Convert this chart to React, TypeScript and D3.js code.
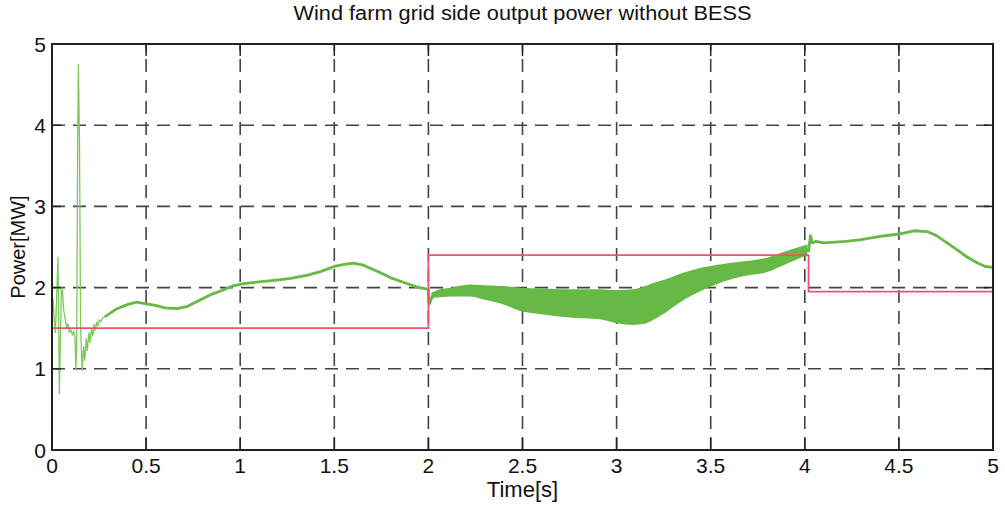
import React from 'react'
import * as d3 from 'd3'

// reference (red) step: power held from each time until the next
const refTime = [0, 2, 4.02, 5]
const refPower = [1.5, 2.4, 1.95, 1.95]

// start-up transient, thin trace
const transientTime = [0, 0.006, 0.012, 0.018, 0.025, 0.032, 0.036, 0.039, 0.045, 0.05, 0.056, 0.062, 0.07, 0.078, 0.085, 0.092, 0.1, 0.108, 0.115, 0.122, 0.127, 0.131, 0.136, 0.14, 0.146, 0.152, 0.16, 0.168, 0.174, 0.182, 0.188, 0.196, 0.202, 0.21, 0.216, 0.224, 0.23, 0.238, 0.244, 0.252, 0.26, 0.27, 0.28]
const transientPower = [1.9, 1.85, 1.6, 1.44, 1.9, 2.38, 1.5, 0.69, 1.4, 2.0, 1.95, 1.72, 1.62, 1.5, 1.56, 1.45, 1.48, 1.42, 1.46, 1.4, 0.98, 1.3, 3.6, 4.75, 3.8, 1.5, 0.98, 1.28, 1.1, 1.38, 1.22, 1.45, 1.32, 1.5, 1.4, 1.55, 1.47, 1.58, 1.53, 1.6, 1.58, 1.63, 1.64]

// smooth part before the first step
const smoothTime1 = [0.28, 0.3, 0.345, 0.4, 0.45, 0.5, 0.55, 0.6, 0.664, 0.72, 0.79, 0.85, 0.91, 0.96, 1.02, 1.1, 1.18, 1.26, 1.354, 1.43, 1.5, 1.56, 1.6, 1.65, 1.7, 1.74, 1.8, 1.885, 1.95, 1.995, 2.0, 2.006, 2.015, 2.025]
const smoothPower1 = [1.64, 1.67, 1.74, 1.79, 1.82, 1.8, 1.78, 1.75, 1.74, 1.77, 1.85, 1.92, 1.97, 2.02, 2.05, 2.07, 2.09, 2.11, 2.15, 2.2, 2.26, 2.29, 2.3, 2.28, 2.23, 2.19, 2.12, 2.05, 2.0, 1.98, 1.98, 1.8, 1.86, 1.9]

// noisy band between the two steps (lower / upper envelope)
const bandTime = [2.02, 2.06, 2.12, 2.22, 2.3, 2.4, 2.49, 2.6, 2.75, 2.91, 3.0, 3.09, 3.14, 3.2, 3.27, 3.35, 3.44, 3.53, 3.62, 3.7, 3.8, 3.9, 4.01]
const bandLow = [1.88, 1.89, 1.9, 1.9, 1.86, 1.8, 1.72, 1.68, 1.64, 1.62, 1.57, 1.55, 1.56, 1.62, 1.72, 1.85, 1.96, 2.05, 2.12, 2.16, 2.2, 2.3, 2.41]
const bandHigh = [1.93, 1.97, 1.99, 2.03, 2.02, 2.01, 1.99, 1.98, 1.97, 1.97, 1.96, 1.97, 2.0, 2.05, 2.1, 2.17, 2.23, 2.27, 2.3, 2.32, 2.36, 2.44, 2.52]

// after the second step
const smoothTime2 = [4.01, 4.02, 4.03, 4.04, 4.06, 4.1, 4.22, 4.3, 4.4, 4.5, 4.58, 4.65, 4.7, 4.75, 4.8, 4.86, 4.92, 4.96, 5.0]
const smoothPower2 = [2.47, 2.45, 2.64, 2.55, 2.57, 2.55, 2.57, 2.59, 2.63, 2.66, 2.7, 2.69, 2.64, 2.56, 2.48, 2.38, 2.3, 2.26, 2.25]

const xTicks = [0, 0.5, 1, 1.5, 2, 2.5, 3, 3.5, 4, 4.5, 5]
const yTicks = [0, 1, 2, 3, 4, 5]

const W = 1005
const H = 508
const margin = { top: 44, right: 12, bottom: 58, left: 52 }
const font = '"Liberation Sans", Arial, Helvetica, sans-serif'

export default function App() {
  const x = d3.scaleLinear().domain([0, 5]).range([margin.left, W - margin.right])
  const y = d3.scaleLinear().domain([0, 5]).range([H - margin.bottom, margin.top])
  const x0 = x(0), x1 = x(5), y0 = y(0), y1 = y(5)

  const line = d3.line<[number, number]>().x(d => x(d[0])).y(d => y(d[1]))
  const stepLine = d3.line<[number, number]>().x(d => x(d[0])).y(d => y(d[1])).curve(d3.curveStepAfter)
  const band = d3.area<number>()
    .x((_, i) => x(bandTime[i]))
    .y0((_, i) => y(bandLow[i]))
    .y1((_, i) => y(bandHigh[i]))
    .curve(d3.curveMonotoneX)

  const pairs = (ts: number[], ps: number[]) => ts.map((t, i) => [t, ps[i]] as [number, number])

  const green = '#66b944'
  const grid = '#444'

  return (
    <svg width={W} height={H} style={{ position: 'absolute', left: 0, top: 0, background: '#fff' }} fontFamily={font}>
      {/* grid */}
      <g stroke={grid} strokeWidth={1.6} strokeDasharray="13,8">
        {xTicks.filter(t => t > 0 && t < 5).map(t => (
          <line key={'gx' + t} x1={x(t)} x2={x(t)} y1={y0} y2={y1} />
        ))}
        {yTicks.filter(t => t > 0 && t < 5).map(t => (
          <line key={'gy' + t} x1={x0} x2={x1} y1={y(t)} y2={y(t)} />
        ))}
      </g>

      {/* green output power */}
      <path d={band(bandTime) || ''} fill={green} stroke={green} strokeWidth={1.5} />
      <path d={line(pairs(transientTime, transientPower)) || ''} fill="none" stroke="#7cc95a" strokeWidth={1.3} />
      <path d={line(pairs(smoothTime1, smoothPower1)) || ''} fill="none" stroke={green} strokeWidth={2.8} strokeLinejoin="round" />
      <path d={line(pairs(smoothTime2, smoothPower2)) || ''} fill="none" stroke={green} strokeWidth={2.8} strokeLinejoin="round" />

      {/* red reference */}
      <path d={stepLine(pairs(refTime, refPower)) || ''} fill="none" stroke="#f0546c" strokeWidth={1.8} />

      {/* box and ticks */}
      <rect x={x0} y={y1} width={x1 - x0} height={y0 - y1} fill="none" stroke="#222" strokeWidth={2} />
      <g stroke="#222" strokeWidth={1.5}>
        {xTicks.map(t => (
          <g key={'tx' + t}>
            <line x1={x(t)} x2={x(t)} y1={y0} y2={y0 - 12} />
            <line x1={x(t)} x2={x(t)} y1={y1} y2={y1 + 12} />
          </g>
        ))}
        {yTicks.map(t => (
          <g key={'ty' + t}>
            <line x1={x0} x2={x0 + 9} y1={y(t)} y2={y(t)} />
            <line x1={x1} x2={x1 - 9} y1={y(t)} y2={y(t)} />
          </g>
        ))}
      </g>

      {/* tick labels */}
      <g fontSize={21} fill="#111">
        {xTicks.map(t => (
          <text key={'lx' + t} x={x(t)} y={y0 + 23} textAnchor="middle">{t}</text>
        ))}
        {yTicks.map(t => (
          <text key={'ly' + t} x={x0 - 6} y={y(t) + 7.5} textAnchor="end">{t}</text>
        ))}
      </g>

      {/* axis labels and title */}
      <text x={(x0 + x1) / 2} y={497} textAnchor="middle" fontSize={22} fill="#111">Time[s]</text>
      <text transform={`translate(25,${(y0 + y1) / 2}) rotate(-90)`} textAnchor="middle" fontSize={20} fill="#111">Power[MW]</text>
      <text x={(x0 + x1) / 2} y={20} textAnchor="middle" fontSize={20} fill="#111" textLength={458} lengthAdjust="spacingAndGlyphs">
        Wind farm grid side output power without BESS
      </text>
    </svg>
  )
}
